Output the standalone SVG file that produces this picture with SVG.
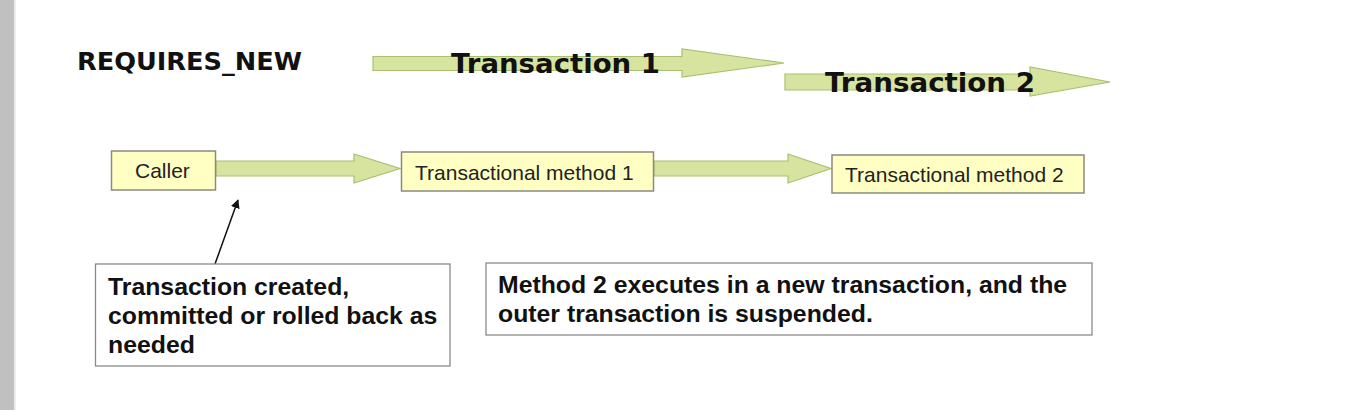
<svg xmlns="http://www.w3.org/2000/svg" width="1351" height="410" viewBox="0 0 1351 410">
<style>
.box{fill:#ffffc4;stroke:#8a8a80;stroke-width:1.5}
.note{fill:#ffffff;stroke:#8a8a8a;stroke-width:1.3}
.arr{fill:#d7e4a0;stroke:#a8c070;stroke-width:1.2}
.lbl{font-family:"Liberation Sans",Arial,sans-serif;font-size:21px;fill:#222}
.nt{font-family:"Liberation Sans",Arial,sans-serif;font-size:24.8px;font-weight:bold;fill:#111}
.ttl{font-family:"DejaVu Sans",Verdana,sans-serif;font-weight:bold;fill:#111}
</style>
<defs>
<marker id="ah" viewBox="0 0 10 10" refX="9" refY="5" markerWidth="9" markerHeight="9" markerUnits="userSpaceOnUse" orient="auto">
<path d="M0,0 L10,5 L0,10 z" fill="#111"/>
</marker>
</defs>
<rect x="0" y="0" width="1351" height="410" fill="#ffffff"/>
<rect x="0" y="0" width="14" height="410" fill="#c0c0c0"/>
<rect x="14" y="0" width="2" height="410" fill="#ececec"/>

<g id="title">
<text class="ttl" x="77" y="70" font-size="24" textLength="225" lengthAdjust="spacingAndGlyphs">REQUIRES_NEW</text>
</g>

<g id="connectors">
<path class="arr" d="M373,56.5 H682 V49 L784,63 L682,77 V70.5 H373 Z"/>
<path class="arr" d="M785,74 H1030 V67 L1110,82 L1030,96 V90 H785 Z"/>
<path class="arr" d="M216,161 H354 V154 L400,168.5 L354,183 V176 H216 Z"/>
<path class="arr" d="M654,161 H788 V154 L831,168.5 L788,183 V176 H654 Z"/>
<line x1="215" y1="264" x2="238" y2="200" stroke="#111" stroke-width="1.5" marker-end="url(#ah)"/>
</g>

<g id="tx1-label">
<text class="ttl" x="451" y="73" font-size="27" textLength="209" lengthAdjust="spacingAndGlyphs">Transaction 1</text>
</g>
<g id="tx2-label">
<text class="ttl" x="825" y="92" font-size="27" textLength="210" lengthAdjust="spacingAndGlyphs">Transaction 2</text>
</g>

<g id="caller">
<rect class="box" x="111.5" y="151" width="104" height="39"/>
<text class="lbl" x="135" y="178">Caller</text>
</g>
<g id="method1">
<rect class="box" x="401.5" y="152" width="252" height="39"/>
<text class="lbl" x="415" y="179.5">Transactional method 1</text>
</g>
<g id="method2">
<rect class="box" x="832" y="155" width="252" height="38"/>
<text class="lbl" x="845" y="182">Transactional method 2</text>
</g>

<g id="note1">
<rect class="note" x="95.5" y="264" width="354.5" height="102"/>
<text class="nt" x="108" y="295">Transaction created,</text>
<text class="nt" x="108" y="324">committed or rolled back as</text>
<text class="nt" x="108" y="352.5">needed</text>
</g>
<g id="note2">
<rect class="note" x="486" y="263" width="606" height="72"/>
<text class="nt" x="498" y="293">Method 2 executes in a new transaction, and the</text>
<text class="nt" x="498" y="322">outer transaction is suspended.</text>
</g>
</svg>
